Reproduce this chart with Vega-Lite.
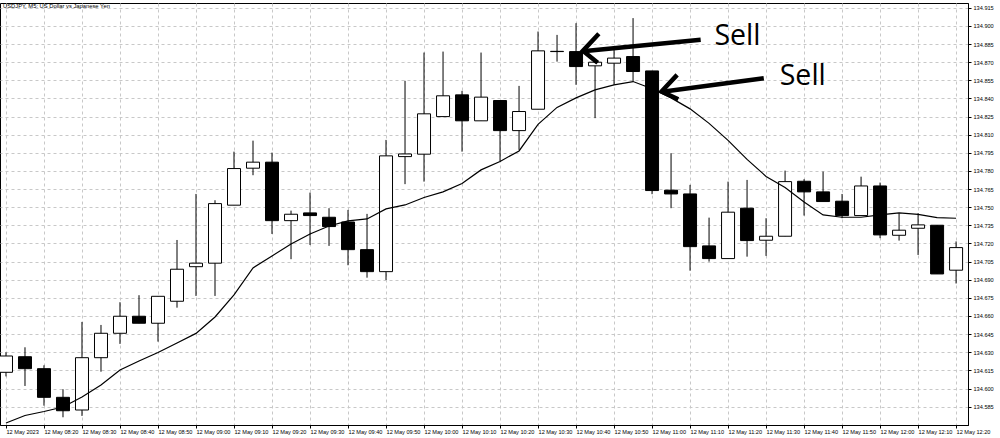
{
  "$schema": "https://vega.github.io/schema/vega-lite/v6.json",
  "width": 968,
  "height": 422,
  "autosize": {"type": "none"},
  "padding": {"left": 0, "top": 3, "right": 32, "bottom": 13},
  "background": "#ffffff",
  "config": {
    "view": {"stroke": "#000000", "strokeWidth": 1},
    "axis": {
      "labelFont": "Liberation Sans",
      "labelFontSize": 5.6,
      "labelColor": "#000000",
      "domainColor": "#000000",
      "tickColor": "#000000",
      "tickSize": 3,
      "grid": true,
      "gridColor": "#c8c8c8",
      "gridDash": [3, 3],
      "gridWidth": 1
    }
  },
  "title": {
    "text": "USDJPY, M5: US Dollar vs Japanese Yen",
    "anchor": "start",
    "orient": "top",
    "offset": 0,
    "dy": 6,
    "dx": 3,
    "fontSize": 5.8,
    "fontWeight": "normal",
    "font": "Liberation Sans",
    "color": "#000000"
  },
  "datasets": {
    "candles": [
      {"t": 490, "o": 134.6134, "h": 134.6300, "l": 134.6100, "c": 134.6269, "ma": 134.5715},
      {"t": 495, "o": 134.6263, "h": 134.6341, "l": 134.6021, "c": 134.6164, "ma": 134.5777},
      {"t": 500, "o": 134.6164, "h": 134.6192, "l": 134.5858, "c": 134.5927, "ma": 134.5810},
      {"t": 505, "o": 134.5927, "h": 134.5994, "l": 134.5762, "c": 134.5816, "ma": 134.5847},
      {"t": 510, "o": 134.5822, "h": 134.6551, "l": 134.5773, "c": 134.6255, "ma": 134.5930},
      {"t": 515, "o": 134.6255, "h": 134.6526, "l": 134.6139, "c": 134.6457, "ma": 134.6029},
      {"t": 520, "o": 134.6457, "h": 134.6714, "l": 134.6369, "c": 134.6598, "ma": 134.6153},
      {"t": 525, "o": 134.6598, "h": 134.6772, "l": 134.6540, "c": 134.6540, "ma": 134.6228},
      {"t": 530, "o": 134.6540, "h": 134.6763, "l": 134.6388, "c": 134.6763, "ma": 134.6298},
      {"t": 535, "o": 134.6722, "h": 134.7229, "l": 134.6669, "c": 134.6987, "ma": 134.6377},
      {"t": 540, "o": 134.7008, "h": 134.7610, "l": 134.6766, "c": 134.7037, "ma": 134.6456},
      {"t": 545, "o": 134.7037, "h": 134.7558, "l": 134.6766, "c": 134.7530, "ma": 134.6592},
      {"t": 550, "o": 134.7517, "h": 134.7960, "l": 134.7517, "c": 134.7820, "ma": 134.6774},
      {"t": 555, "o": 134.7823, "h": 134.8051, "l": 134.7765, "c": 134.7873, "ma": 134.6998},
      {"t": 560, "o": 134.7873, "h": 134.7952, "l": 134.7279, "c": 134.7389, "ma": 134.7097},
      {"t": 565, "o": 134.7389, "h": 134.7472, "l": 134.7070, "c": 134.7442, "ma": 134.7196},
      {"t": 570, "o": 134.7453, "h": 134.7621, "l": 134.7188, "c": 134.7431, "ma": 134.7279},
      {"t": 575, "o": 134.7417, "h": 134.7492, "l": 134.7180, "c": 134.7340, "ma": 134.7345},
      {"t": 580, "o": 134.7378, "h": 134.7478, "l": 134.7020, "c": 134.7149, "ma": 134.7387},
      {"t": 585, "o": 134.7149, "h": 134.7445, "l": 134.6917, "c": 134.6967, "ma": 134.7403},
      {"t": 590, "o": 134.6967, "h": 134.8057, "l": 134.6898, "c": 134.7925, "ma": 134.7486},
      {"t": 595, "o": 134.7919, "h": 134.8546, "l": 134.7691, "c": 134.7941, "ma": 134.7519},
      {"t": 600, "o": 134.7939, "h": 134.8780, "l": 134.7712, "c": 134.8273, "ma": 134.7581},
      {"t": 605, "o": 134.8250, "h": 134.8788, "l": 134.8250, "c": 134.8422, "ma": 134.7627},
      {"t": 610, "o": 134.8430, "h": 134.8463, "l": 134.7960, "c": 134.8215, "ma": 134.7697},
      {"t": 615, "o": 134.8215, "h": 134.8780, "l": 134.8215, "c": 134.8411, "ma": 134.7809},
      {"t": 620, "o": 134.8383, "h": 134.8383, "l": 134.7878, "c": 134.8134, "ma": 134.7879},
      {"t": 625, "o": 134.8134, "h": 134.8504, "l": 134.7975, "c": 134.8292, "ma": 134.7966},
      {"t": 630, "o": 134.8311, "h": 134.8954, "l": 134.8311, "c": 134.8794, "ma": 134.8186},
      {"t": 635, "o": 134.8790, "h": 134.8926, "l": 134.8705, "c": 134.8788, "ma": 134.8326},
      {"t": 640, "o": 134.8788, "h": 134.9023, "l": 134.8513, "c": 134.8664, "ma": 134.8405},
      {"t": 645, "o": 134.8670, "h": 134.8720, "l": 134.8237, "c": 134.8700, "ma": 134.8471},
      {"t": 650, "o": 134.8692, "h": 134.8802, "l": 134.8513, "c": 134.8734, "ma": 134.8513},
      {"t": 655, "o": 134.8747, "h": 134.9065, "l": 134.8540, "c": 134.8623, "ma": 134.8540},
      {"t": 660, "o": 134.8628, "h": 134.8628, "l": 134.7608, "c": 134.7638, "ma": 134.8480},
      {"t": 665, "o": 134.7641, "h": 134.7947, "l": 134.7492, "c": 134.7610, "ma": 134.8405},
      {"t": 670, "o": 134.7610, "h": 134.7685, "l": 134.6975, "c": 134.7174, "ma": 134.8314},
      {"t": 675, "o": 134.7180, "h": 134.7414, "l": 134.7050, "c": 134.7075, "ma": 134.8194},
      {"t": 680, "o": 134.7075, "h": 134.7712, "l": 134.7075, "c": 134.7459, "ma": 134.8053},
      {"t": 685, "o": 134.7492, "h": 134.7726, "l": 134.7091, "c": 134.7224, "ma": 134.7896},
      {"t": 690, "o": 134.7227, "h": 134.7409, "l": 134.7097, "c": 134.7260, "ma": 134.7755},
      {"t": 695, "o": 134.7260, "h": 134.7803, "l": 134.7260, "c": 134.7712, "ma": 134.7664},
      {"t": 700, "o": 134.7715, "h": 134.7732, "l": 134.7431, "c": 134.7627, "ma": 134.7544},
      {"t": 705, "o": 134.7627, "h": 134.7795, "l": 134.7547, "c": 134.7547, "ma": 134.7436},
      {"t": 710, "o": 134.7550, "h": 134.7610, "l": 134.7409, "c": 134.7431, "ma": 134.7417},
      {"t": 715, "o": 134.7431, "h": 134.7753, "l": 134.7431, "c": 134.7676, "ma": 134.7417},
      {"t": 720, "o": 134.7676, "h": 134.7704, "l": 134.7244, "c": 134.7271, "ma": 134.7436},
      {"t": 725, "o": 134.7268, "h": 134.7450, "l": 134.7224, "c": 134.7310, "ma": 134.7453},
      {"t": 730, "o": 134.7326, "h": 134.7450, "l": 134.7105, "c": 134.7354, "ma": 134.7441},
      {"t": 735, "o": 134.7351, "h": 134.7351, "l": 134.6948, "c": 134.6948, "ma": 134.7414},
      {"t": 740, "o": 134.6979, "h": 134.7217, "l": 134.6869, "c": 134.7166, "ma": 134.7409}
    ],
    "shafts": [
      {"arrow": 1, "t": 672.8, "p": 134.8885, "t2": 642.5, "p2": 134.8793},
      {"arrow": 2, "t": 689.4, "p": 134.8568, "t2": 663.2, "p2": 134.8458}
    ],
    "heads": [
      {"arrow": 1, "k": 1, "t": 646.0, "p": 134.8935},
      {"arrow": 1, "k": 2, "t": 641.8, "p": 134.8794},
      {"arrow": 1, "k": 3, "t": 645.7, "p": 134.8695},
      {"arrow": 2, "k": 1, "t": 666.6, "p": 134.8595},
      {"arrow": 2, "k": 2, "t": 662.5, "p": 134.8457},
      {"arrow": 2, "k": 3, "t": 666.9, "p": 134.8394}
    ],
    "labels": [
      {"t": 676.4, "p": 134.8844, "text": "Sell"},
      {"t": 693.6, "p": 134.8513, "text": "Sell"}
    ]
  },
  "layer": [
    {
      "data": {"name": "candles"},
      "mark": {"type": "rule", "color": "#000000", "strokeWidth": 1, "clip": true},
      "encoding": {
        "x": {
          "field": "t", "type": "quantitative",
          "scale": {"domain": [489.74, 741.82], "nice": false, "zero": false},
          "axis": {
            "title": null,
            "orient": "bottom",
            "tickCount": 200,
            "values": [490, 500, 510, 520, 530, 540, 550, 560, 570, 580, 590, 600, 610, 620, 630, 640, 650, 660, 670, 680, 690, 700, 710, 720, 730, 740],
            "labelAlign": "left",
            "labelPadding": 1,
            "labelOverlap": false,
            "labelFlush": false,
            "labelBound": false,
            "labelExpr": "datum.value == 490 ? '12 May 2023' : '12 May ' + (floor(datum.value / 60) < 10 ? '0' : '') + floor(datum.value / 60) + ':' + (datum.value % 60 < 10 ? '0' : '') + (datum.value % 60)"
          }
        },
        "y": {
          "field": "l", "type": "quantitative",
          "scale": {"domain": [134.5698, 134.919], "nice": false, "zero": false},
          "axis": {
            "title": null,
            "orient": "right",
            "tickCount": 200,
            "values": [134.585, 134.6, 134.615, 134.63, 134.645, 134.66, 134.675, 134.69, 134.705, 134.72, 134.735, 134.75, 134.765, 134.78, 134.795, 134.81, 134.825, 134.84, 134.855, 134.87, 134.885, 134.9, 134.915],
            "format": ".3f",
            "labelPadding": 2,
            "labelOverlap": false,
            "labelBound": false,
            "labelFlush": false
          }
        },
        "y2": {"field": "h"}
      }
    },
    {
      "data": {"name": "candles"},
      "mark": {"type": "bar", "size": 13, "stroke": "#000000", "strokeWidth": 1, "clip": true},
      "encoding": {
        "x": {"field": "t", "type": "quantitative"},
        "y": {"field": "o", "type": "quantitative"},
        "y2": {"field": "c"},
        "fill": {"condition": {"test": "datum.c >= datum.o", "value": "#ffffff"}, "value": "#000000"}
      }
    },
    {
      "data": {"name": "candles"},
      "mark": {"type": "line", "color": "#000000", "strokeWidth": 1.2, "clip": true},
      "encoding": {
        "x": {"field": "t", "type": "quantitative"},
        "y": {"field": "ma", "type": "quantitative"}
      }
    },
    {
      "data": {"name": "shafts"},
      "mark": {"type": "rule", "color": "#000000", "strokeWidth": 4.5},
      "encoding": {
        "x": {"field": "t", "type": "quantitative"},
        "y": {"field": "p", "type": "quantitative"},
        "x2": {"field": "t2"},
        "y2": {"field": "p2"}
      }
    },
    {
      "data": {"name": "heads"},
      "mark": {"type": "line", "color": "#000000", "strokeWidth": 4.5, "strokeJoin": "miter", "strokeCap": "butt"},
      "encoding": {
        "x": {"field": "t", "type": "quantitative"},
        "y": {"field": "p", "type": "quantitative"},
        "detail": {"field": "arrow", "type": "nominal"},
        "order": {"field": "k", "type": "quantitative"}
      }
    },
    {
      "data": {"name": "labels"},
      "mark": {"type": "text", "align": "left", "baseline": "alphabetic", "fontSize": 28.5, "font": "Open Sans", "color": "#000000"},
      "encoding": {
        "x": {"field": "t", "type": "quantitative"},
        "y": {"field": "p", "type": "quantitative"},
        "text": {"field": "text", "type": "nominal"}
      }
    }
  ]
}
